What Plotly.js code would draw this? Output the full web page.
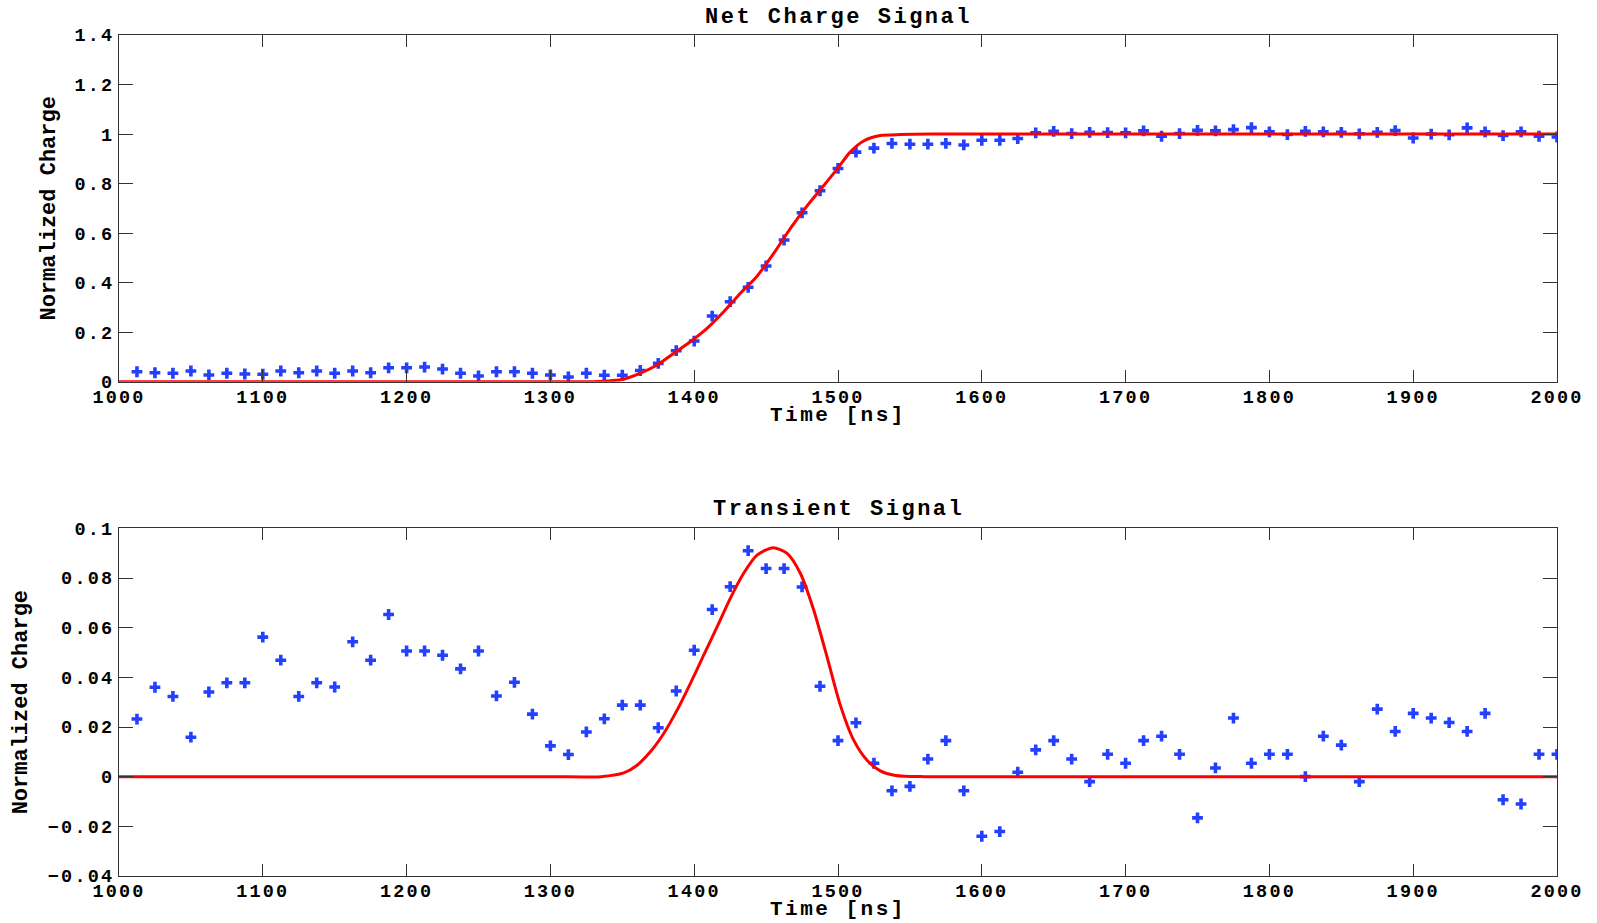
<!DOCTYPE html>
<html>
<head>
<meta charset="utf-8">
<script src="https://cdn.plot.ly/plotly-3.0.1.min.js"></script>
<style>
  html, body { margin: 0; padding: 0; background: #ffffff; }
  #chart { width: 1597px; height: 923px; }
  .xtick text, .x2tick text, .ytick text, .y2tick text { letter-spacing: 2.2px; }
  .annotation-text { letter-spacing: 2.5px; }
</style>
</head>
<body>
<div id="chart"></div>
<script>
// Sample times of the measured waveform [ns]
const sampleTime = [
  1012.5, 1025, 1037.5, 1050, 1062.5, 1075, 1087.5, 1100, 1112.5, 1125,
  1137.5, 1150, 1162.5, 1175, 1187.5, 1200, 1212.5, 1225, 1237.5, 1250,
  1262.5, 1275, 1287.5, 1300, 1312.5, 1325, 1337.5, 1350, 1362.5, 1375,
  1387.5, 1400, 1412.5, 1425, 1437.5, 1450, 1462.5, 1475, 1487.5, 1500,
  1512.5, 1525, 1537.5, 1550, 1562.5, 1575, 1587.5, 1600, 1612.5, 1625,
  1637.5, 1650, 1662.5, 1675, 1687.5, 1700, 1712.5, 1725, 1737.5, 1750,
  1762.5, 1775, 1787.5, 1800, 1812.5, 1825, 1837.5, 1850, 1862.5, 1875,
  1887.5, 1900, 1912.5, 1925, 1937.5, 1950, 1962.5, 1975, 1987.5, 2000
];

// Measured net charge (normalized)
const netCharge = [
  0.040, 0.036, 0.034, 0.043, 0.027, 0.034, 0.031, 0.030, 0.043, 0.036,
  0.043, 0.034, 0.043, 0.036, 0.056, 0.056, 0.059, 0.051, 0.034, 0.023,
  0.040, 0.040, 0.034, 0.027, 0.019, 0.034, 0.026, 0.026, 0.045, 0.074,
  0.125, 0.164, 0.265, 0.323, 0.381, 0.467, 0.572, 0.682, 0.771, 0.861,
  0.927, 0.943, 0.962, 0.959, 0.959, 0.962, 0.956, 0.975, 0.975, 0.982,
  1.005, 1.011, 1.002, 1.007, 1.006, 1.005, 1.013, 0.991, 1.002, 1.015,
  1.013, 1.018, 1.026, 1.009, 0.998, 1.011, 1.009, 1.007, 1.001, 1.007,
  1.014, 0.984, 1.000, 0.997, 1.025, 1.009, 0.994, 1.009, 0.991, 0.988
];

// Measured transient signal (normalized)
const transient = [
  0.0232, 0.0360, 0.0323, 0.0159, 0.0341, 0.0378, 0.0378, 0.0562, 0.0469, 0.0323,
  0.0378, 0.0361, 0.0543, 0.0469, 0.0653, 0.0506, 0.0506, 0.0489, 0.0434, 0.0506,
  0.0325, 0.0380, 0.0252, 0.0124, 0.0089, 0.0180, 0.0233, 0.0288, 0.0288, 0.0197,
  0.0345, 0.0509, 0.0673, 0.0765, 0.0910, 0.0838, 0.0838, 0.0764, 0.0364, 0.0145,
  0.0217, 0.0054, -0.0057, -0.0039, 0.0071, 0.0145, -0.0057, -0.0240, -0.0221, 0.0018,
  0.0108, 0.0145, 0.0071, -0.0020, 0.0090, 0.0054, 0.0145, 0.0163, 0.0090, -0.0166,
  0.0035, 0.0236, 0.0054, 0.0090, 0.0090, 0.0000, 0.0163, 0.0127, -0.0020, 0.0272,
  0.0182, 0.0255, 0.0236, 0.0218, 0.0182, 0.0255, -0.0093, -0.0110, 0.0090, 0.0090
];

// Fitted net charge model, sampled
const netFitTime = [1000, 1100, 1200, 1300, 1330, 1351, 1362.6, 1374.2, 1385.7, 1397.3,
  1408.9, 1420.5, 1432.1, 1443.7, 1455.3, 1466.9, 1478.5, 1490, 1499.3, 1508.6,
  1517.8, 1529.4, 1543.4, 1565, 1600, 1700, 1800, 1900, 2000];
const netFit = [0, 0, 0, 0, 0, 0.010, 0.034, 0.067, 0.114, 0.161,
  0.215, 0.282, 0.357, 0.426, 0.518, 0.619, 0.710, 0.791, 0.858, 0.928,
  0.972, 0.994, 0.998, 1.0, 1.0, 1.0, 1.0, 1.0, 1.0];

// Fitted transient model, sampled
const transFitTime = [1000, 1100, 1200, 1300, 1335, 1351, 1360.3, 1369.5, 1378.8, 1388.1,
  1397.3, 1406.6, 1415.9, 1425.1, 1434.4, 1443.7, 1454.8, 1464.6, 1473.8, 1483.1,
  1492.4, 1501.6, 1510.9, 1520.2, 1529.4, 1540, 1560, 1600, 1700, 1800, 1900, 2000];
const transFit = [0, 0, 0, 0, 0, 0.0015, 0.0046, 0.0100, 0.0174, 0.0268,
  0.0375, 0.0489, 0.0603, 0.0718, 0.0819, 0.0892, 0.0922, 0.0899, 0.0819, 0.0671,
  0.0482, 0.0288, 0.0147, 0.0066, 0.0023, 0.0005, 0, 0, 0, 0, 0, 0];

const FONT = 'Liberation Mono, Courier New, monospace';
const markerStyle = { symbol: 'cross', size: 9, color: '#2340ff', line: { width: 0 } };
const fitLine = { color: '#ff0000', width: 3, shape: 'spline', smoothing: 0.7 };

const traces = [
  { x: sampleTime, y: netCharge, type: 'scatter', mode: 'markers', marker: markerStyle,
    xaxis: 'x', yaxis: 'y', hoverinfo: 'x+y' },
  { x: netFitTime, y: netFit, type: 'scatter', mode: 'lines', line: fitLine,
    xaxis: 'x', yaxis: 'y' },
  { x: sampleTime, y: transient, type: 'scatter', mode: 'markers', marker: markerStyle,
    xaxis: 'x2', yaxis: 'y2', hoverinfo: 'x+y' },
  { x: transFitTime, y: transFit, type: 'scatter', mode: 'lines', line: fitLine,
    xaxis: 'x2', yaxis: 'y2' }
];

const tickFont = { family: FONT, size: 18.5, color: '#000', weight: 'bold' };
const xTitleFont = { family: FONT, size: 21, color: '#000', weight: 'bold' };
const yTitleFont = { family: FONT, size: 22, color: '#000', weight: 'bold' };
const panelTitleFont = { family: FONT, size: 22, color: '#000', weight: 'bold' };

function xAxis(anchor) {
  return {
    anchor: anchor, domain: [0, 1], range: [1000, 2000], dtick: 100, tick0: 1000,
    showline: true, linecolor: '#333', linewidth: 1, mirror: 'ticks',
    ticks: 'inside', ticklen: 12, tickcolor: '#333', tickwidth: 1,
    ticklabelstandoff: -2,
    showgrid: false, zeroline: false, tickfont: tickFont
  };
}
function yAxis(anchor, domain, range, dtick, standoff) {
  return {
    anchor: anchor, domain: domain, range: range, dtick: dtick,
    showline: true, linecolor: '#333', linewidth: 1, mirror: 'ticks',
    ticks: 'inside', ticklen: 14, tickcolor: '#333', tickwidth: 1,
    showgrid: false, zeroline: false, tickfont: tickFont,
    title: { text: 'Normalized Charge', font: yTitleFont, standoff: standoff }
  };
}

function label(text, y, font) {
  return { text: text, xref: 'paper', yref: 'paper', x: 0.5, y: y,
    xanchor: 'center', yanchor: 'middle', showarrow: false, font: font };
}

const layout = {
  width: 1597, height: 923,
  margin: { l: 119, r: 40, t: 35, b: 47 },
  paper_bgcolor: '#ffffff', plot_bgcolor: '#ffffff',
  showlegend: false,
  xaxis: xAxis('y'),
  yaxis: yAxis('x', [0.5878, 1], [0, 1.4], 0.2, 12),
  xaxis2: xAxis('y2'),
  yaxis2: yAxis('x2', [0, 0.4134], [-0.04, 0.1], 0.02, 14),
  annotations: [
    label('Net Charge Signal', 1.0205, panelTitleFont),
    label('Transient Signal', 0.4355, panelTitleFont),
    label('Time [ns]', 0.5470, xTitleFont),
    label('Time [ns]', -0.0400, xTitleFont)
  ]
};

Plotly.newPlot('chart', traces, layout, { displayModeBar: false, staticPlot: true });
</script>
</body>
</html>
